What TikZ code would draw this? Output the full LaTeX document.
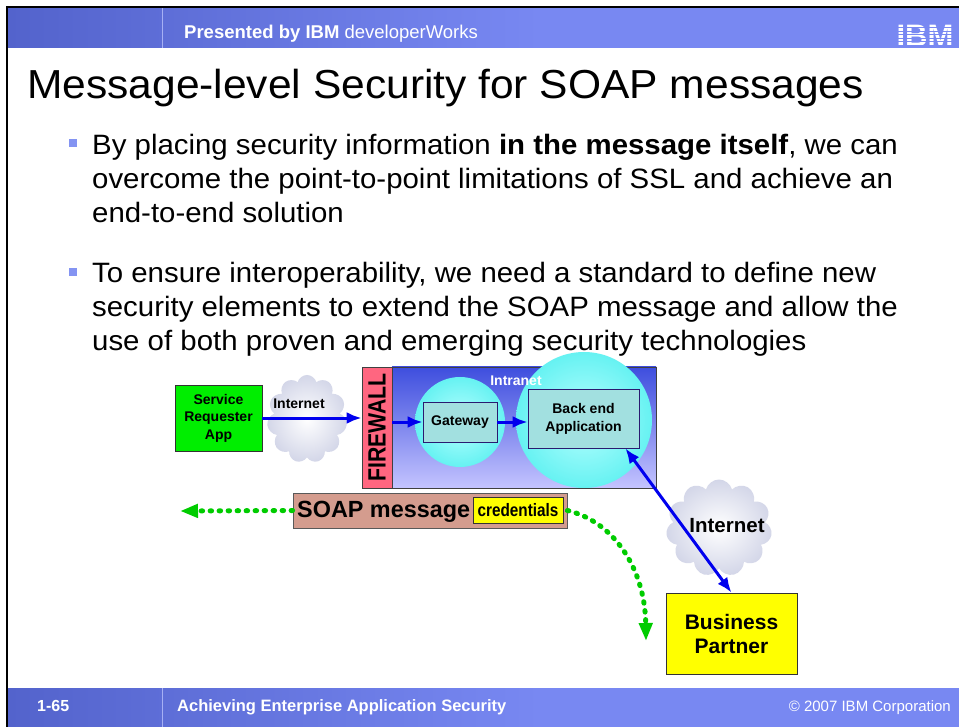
\documentclass[tikz,border=0pt]{standalone}
\usepackage{fontspec}
\setmainfont{Liberation Sans}
\newfontfamily\widefont[FakeStretch=1.05]{Liberation Sans}
\newfontfamily\condfont[FakeStretch=0.85]{Liberation Sans}
\usetikzlibrary{arrows.meta,positioning,shapes.symbols,calc}
\definecolor{HeadDark}{HTML}{5363CC}
\definecolor{HeadLight}{HTML}{7888F2}
\definecolor{HeadRule}{HTML}{A6B0F4}
\definecolor{BulletBlue}{HTML}{8494F2}
\definecolor{LinkBlue}{HTML}{0000EE}
\definecolor{AppGreen}{HTML}{00EE00}
\definecolor{WallRed}{HTML}{FF6680}
\definecolor{NetTop}{HTML}{3E4EDE}
\definecolor{NetBottom}{HTML}{C4C4FF}
\definecolor{GlowCyan}{HTML}{66F2F2}
\definecolor{GlowCore}{HTML}{B8FFFF}
\definecolor{BoxTeal}{HTML}{A2E0E0}
\definecolor{BoxEdge}{HTML}{2A1A70}
\definecolor{SoapRose}{HTML}{D49C8E}
\definecolor{CredYellow}{HTML}{FFFF00}
\definecolor{DotGreen}{HTML}{00CC00}
\definecolor{CloudGray}{HTML}{D3D6E8}

\begin{document}
\begin{tikzpicture}[
	x=1pt, y=-1pt,
	bullet/.style={
		fill=BulletBlue,
		minimum size=8pt,
		inner sep=0pt
	},
	point/.style={
		font=\widefont\fontsize{28}{34}\selectfont,
		align=left,
		inner sep=0pt,
		anchor=base west
	},
	glow/.style={
		circle,
		inner color=GlowCore,
		outer color=GlowCyan
	},
	part/.style={
		draw=BoxEdge,
		line width=0.8pt,
		align=center,
		font=\fontsize{14}{17.5}\selectfont\bfseries,
		inner sep=0pt
	},
	puff/.style={
		cloud,
		cloud puffs=11,
		inner color=white,
		outer color=CloudGray,
		inner sep=0pt
	},
	flow/.style={
		->,
		>={Latex[length=15pt,width=12pt]},
		line width=3pt,
		draw=LinkBlue
	},
	dotflow/.style={
		-{Triangle[length=18pt,width=13pt]},
		line width=5pt,
		line cap=round,
		dash pattern=on 1.5pt off 7.5pt,
		draw=DotGreen
	}
]
\useasboundingbox (0,0) rectangle (959,727);
\fill[white] (0,0) rectangle (959,727);

% header and footer bands
\fill[HeadLight] (8,8) rectangle (959,48);
\shade[left color=HeadDark, right color=HeadLight] (8,8) rectangle (540,48);
\fill[HeadLight] (8,688) rectangle (959,727);
\shade[left color=HeadDark, right color=HeadLight] (8,688) rectangle (540,727);
\draw[HeadRule, line width=1pt] (162,8) -- (162,48);
\draw[HeadRule, line width=1pt] (162,688) -- (162,727);
\draw[black, line width=2pt] (7,727) -- (7,7) -- (959,7);

\node[anchor=base west, inner sep=0pt, text=white, font=\fontsize{18.5}{22}\selectfont] (presented) at (184,39)
	{\textbf{Presented by IBM} developerWorks};

\node[anchor=base, inner sep=0pt, text=white, font=\bfseries\fontsize{31}{31}\selectfont] (ibm) at (925,47) {IBM};
\foreach \s in {27.5,31,...,46}
	\draw[HeadLight, line width=0.8pt] (ibm.west |- 0,\s) -- (ibm.east |- 0,\s);

\node[anchor=base west, inner sep=0pt, text=white, font=\bfseries\fontsize{16}{19}\selectfont] (slideno) at (37,711) {1-65};
\node[anchor=base west, inner sep=0pt, text=white, font=\bfseries\fontsize{16.5}{19}\selectfont] (course) at (177,711)
	{Achieving Enterprise Application Security};
\node[anchor=base east, inner sep=0pt, text=white, font=\fontsize{15}{18}\selectfont] (copy) at (951,711)
	{© 2007 IBM Corporation};

% title and bullets
\node[anchor=base west, inner sep=0pt, font=\widefont\fontsize{40.5}{48}\selectfont] (title) at (27,99)
	{Message-level Security for SOAP messages};

\node[bullet] (mark1) at (73,143) {};
\node[point] (point1) at (92,223)
	{By placing security information \textbf{in the message itself}, we can\\
	overcome the point-to-point limitations of SSL and achieve an\\
	end-to-end solution};

\node[bullet] (mark2) at (73,272) {};
\node[point] (point2) at (92,351)
	{To ensure interoperability, we need a standard to define new\\
	security elements to extend the SOAP message and allow the\\
	use of both proven and emerging security technologies};

% network
\node[puff, minimum width=80pt, minimum height=88pt] (cloudA) at (307,419) {};
\node[puff, minimum width=106pt, minimum height=97pt] (cloudB) at (719,528) {};

\node[draw=black!75, line width=0.8pt, top color=NetTop, bottom color=NetBottom,
	minimum width=264pt, minimum height=121pt] (intranet) at (524,427.5) {};

\node[glow, minimum size=90pt] (gwglow) at (460,422) {};
\node[glow, minimum size=136pt] (beglow) at (584,420) {};
\node[font=\fontsize{14}{17}\selectfont\bfseries, text=white, inner sep=0pt] (intranetlbl) at (516,381) {Intranet};

\node[draw=black!75, line width=0.8pt, fill=WallRed, minimum width=30pt, minimum height=121pt] (firewall) at (377,427.5) {};
\node[rotate=90, font=\condfont\bfseries\fontsize{25}{25}\selectfont, inner sep=0pt] (firewalllbl) at (firewall) {FIREWALL};

\node[part, fill=AppGreen, draw=black!80, minimum width=87pt, minimum height=66pt] (reqapp) at (218.5,418)
	{Service\\Requester\\App};
\node[part, fill=BoxTeal, minimum width=74pt, minimum height=40pt] (gateway) at (460,422) {Gateway};
\node[part, fill=BoxTeal, minimum width=111pt, minimum height=59pt, font=\fontsize{14}{18}\selectfont\bfseries] (backend) at (583.5,418.5)
	{Back end\\Application};

\node[font=\fontsize{14}{17}\selectfont\bfseries, inner sep=0pt] (netA) at (299,404) {Internet};
\node[font=\fontsize{20.5}{24}\selectfont\bfseries, inner sep=0pt] (netB) at (727,526) {Internet};

\node[part, fill=CredYellow, draw=black!80, minimum width=131pt, minimum height=81pt,
	font=\fontsize{21}{24}\selectfont\bfseries] (partner) at (731.5,633.5) {Business\\Partner};

\draw[flow] (reqapp.east) -- (reqapp.east -| firewall.west);
\draw[flow] (firewall.east |- gateway.west) -- (gateway.west);
\draw[flow] (gateway.east) -- (gateway.east -| backend.west);
\draw[flow, <->] ($(backend.south east)+(-14,0)$) -- (partner.north);

% message travelling with its credentials
\node[draw=black!65, line width=0.8pt, fill=SoapRose, minimum width=274pt, minimum height=35pt] (soap) at (430,510.5) {};
\node[anchor=west, inner sep=0pt, font=\fontsize{23.4}{28}\selectfont\bfseries] (soaplbl) at (297,512) {SOAP message};
\node[draw=black!80, line width=0.8pt, fill=CredYellow, minimum width=90pt, minimum height=26pt, inner sep=0pt,
	font=\condfont\bfseries\fontsize{18}{20}\selectfont] (cred) at (518,510) {credentials};

\coordinate (msgout) at (180,511);
\coordinate (msgdown) at (646,641);
\draw[dotflow] (soap.west) -- (msgout);
\draw[dotflow] (soap.east) .. controls (615,522) and (645,570) .. (msgdown);

\end{tikzpicture}
\end{document}
